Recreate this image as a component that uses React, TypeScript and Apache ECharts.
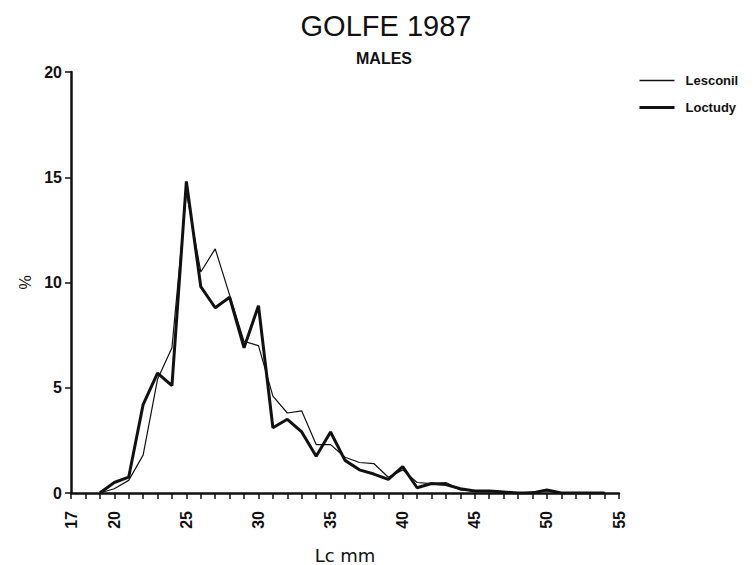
import React, { useEffect, useRef } from "react";
import * as echarts from "echarts";

const lengths = [19, 20, 21, 22, 23, 24, 25, 26, 27, 28, 29, 30, 31, 32, 33, 34, 35, 36, 37, 38, 39, 40, 41, 42, 43, 44, 45, 46, 47, 48, 49, 50, 51, 52, 53, 54];
const lesconil = [0, 0.2, 0.6, 1.8, 5.4, 6.9, 14.3, 10.5, 11.6, 9.4, 7.2, 7.0, 4.6, 3.8, 3.9, 2.3, 2.3, 1.7, 1.45, 1.4, 0.75, 1.1, 0.5, 0.45, 0.5, 0.15, 0.1, 0.1, 0.05, 0, 0.05, 0.1, 0, 0, 0, 0];
const loctudy = [0, 0.5, 0.75, 4.2, 5.7, 5.1, 14.8, 9.8, 8.8, 9.3, 6.9, 8.9, 3.1, 3.5, 2.9, 1.75, 2.9, 1.55, 1.1, 0.9, 0.65, 1.25, 0.25, 0.45, 0.4, 0.2, 0.1, 0.1, 0.05, 0, 0, 0.15, 0, 0, 0, 0];
const xLabelValues = [17, 20, 25, 30, 35, 40, 45, 50, 55];

const FONT = "Liberation Sans";

export default function App() {
  const ref = useRef<HTMLDivElement>(null);
  useEffect(() => {
    if (!ref.current) return;
    const chart = echarts.init(ref.current, null, { renderer: "svg" });
    chart.setOption({
      animation: false,
      backgroundColor: "#fff",
      title: [
        {
          text: "GOLFE 1987",
          left: 373,
          top: -2,
          textAlign: "center",
          textStyle: { fontFamily: FONT, fontSize: 29, fontWeight: "normal", color: "#111" },
        },
        {
          text: "MALES",
          left: 371,
          top: 37,
          textAlign: "center",
          textStyle: { fontFamily: FONT, fontSize: 16, fontWeight: "bold", color: "#111" },
        },
      ],
      legend: {
        orient: "vertical",
        left: 625,
        top: 61,
        itemWidth: 35,
        itemHeight: 14,
        itemGap: 14,
        itemStyle: { opacity: 0, borderWidth: 0 },
        textStyle: { fontFamily: FONT, fontSize: 13, fontWeight: "bold", color: "#111", padding: [0, 0, 0, 6] },
        data: [
          { name: "Lesconil", lineStyle: { width: 1.3, color: "#111" } },
          { name: "Loctudy", lineStyle: { width: 3, color: "#111" } },
        ],
      },
      grid: { left: 63, right: 144, top: 64, bottom: 80 },
      xAxis: {
        type: "value",
        min: 17,
        max: 55,
        interval: 1,
        name: "Lc mm",
        nameLocation: "middle",
        nameGap: 53,
        nameMoveOverlap: false,
        nameTextStyle: { fontFamily: "DejaVu Sans", fontSize: 18, color: "#111" },
        splitLine: { show: false },
        axisLine: { lineStyle: { color: "#111", width: 2.5 } },
        axisTick: { length: 6, lineStyle: { color: "#111", width: 1.5 } },
        axisLabel: {
          rotate: 90,
          margin: 18,
          fontFamily: FONT,
          fontSize: 16,
          fontWeight: "bold",
          color: "#111",
          formatter: (v: number) => (xLabelValues.includes(v) ? String(v) : ""),
        },
      },
      yAxis: {
        type: "value",
        min: 0,
        max: 20,
        interval: 5,
        name: "%",
        nameLocation: "middle",
        nameGap: 38,
        nameRotate: 90,
        nameTextStyle: { fontFamily: FONT, fontSize: 16, color: "#111" },
        splitLine: { show: false },
        axisLine: { show: true, lineStyle: { color: "#111", width: 2.5 } },
        axisTick: { show: true, length: 6, lineStyle: { color: "#111", width: 1.5 } },
        axisLabel: { margin: 9, fontFamily: FONT, fontSize: 16, fontWeight: "bold", color: "#111" },
      },
      series: [
        {
          name: "Lesconil",
          type: "line",
          symbol: "none",
          data: lengths.map((l, i) => [l, lesconil[i]]),
          lineStyle: { color: "#111", width: 1.2 },
          itemStyle: { color: "#111" },
        },
        {
          name: "Loctudy",
          type: "line",
          symbol: "none",
          data: lengths.map((l, i) => [l, loctudy[i]]),
          lineStyle: { color: "#111", width: 3 },
          itemStyle: { color: "#111" },
        },
      ],
    });
    return () => chart.dispose();
  }, []);
  return <div ref={ref} style={{ width: 755, height: 565 }} />;
}
